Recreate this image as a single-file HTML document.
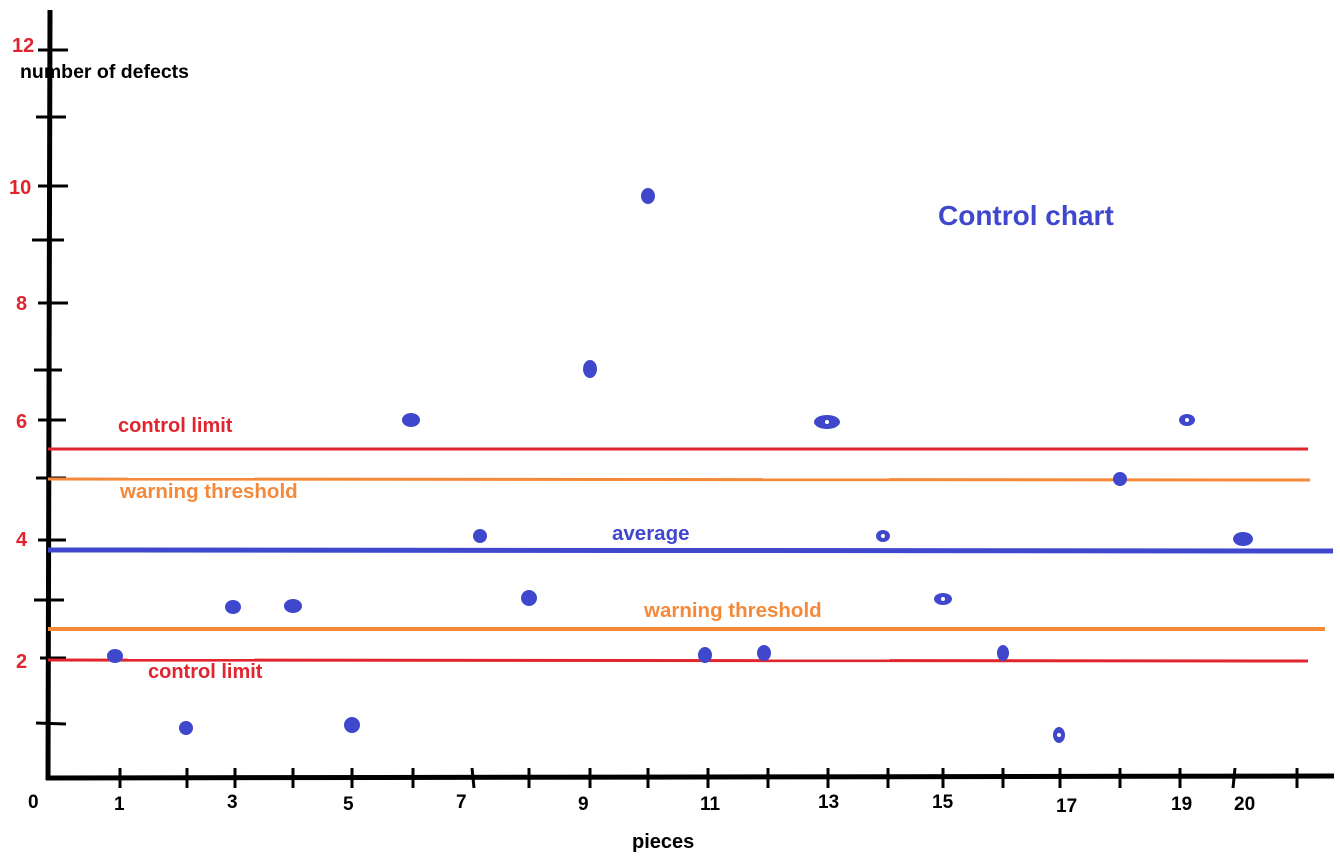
<!DOCTYPE html>
<html><head><style>body{margin:0;background:#fff}svg{display:block}text{font-family:"Liberation Sans",sans-serif;font-weight:bold}</style></head><body>
<svg width="1340" height="856" viewBox="0 0 1340 856">
<g stroke="#000" stroke-width="5">
<line x1="50" y1="10" x2="48" y2="780"/>
<line x1="46" y1="778" x2="1334" y2="776"/>
</g>
<g stroke="#000" stroke-width="3">
<line x1="38" y1="50" x2="68" y2="50"/><line x1="36" y1="117" x2="66" y2="117"/><line x1="38" y1="186" x2="68" y2="186"/><line x1="32" y1="240" x2="64" y2="240"/><line x1="38" y1="303" x2="68" y2="303"/><line x1="34" y1="370" x2="62" y2="370"/><line x1="38" y1="420" x2="66" y2="420"/><line x1="36" y1="478" x2="66" y2="478"/><line x1="38" y1="540" x2="66" y2="540"/><line x1="34" y1="600" x2="64" y2="600"/><line x1="40" y1="658" x2="66" y2="658"/><line x1="36" y1="723" x2="66" y2="724"/>
</g>
<g stroke="#000" stroke-width="3">
<line x1="120" y1="768" x2="120" y2="788"/><line x1="187" y1="768" x2="187" y2="788"/><line x1="235" y1="768" x2="235" y2="788"/><line x1="293" y1="768" x2="293" y2="788"/><line x1="352" y1="768" x2="352" y2="788"/><line x1="413" y1="768" x2="413" y2="788"/><line x1="472" y1="768" x2="474" y2="788"/><line x1="529" y1="768" x2="529" y2="788"/><line x1="590" y1="768" x2="590" y2="788"/><line x1="648" y1="768" x2="648" y2="788"/><line x1="708" y1="768" x2="708" y2="788"/><line x1="768" y1="768" x2="768" y2="788"/><line x1="828" y1="768" x2="828" y2="788"/><line x1="888" y1="768" x2="888" y2="788"/><line x1="943" y1="768" x2="943" y2="788"/><line x1="1003" y1="768" x2="1003" y2="788"/><line x1="1060" y1="768" x2="1060" y2="788"/><line x1="1120" y1="768" x2="1120" y2="788"/><line x1="1180" y1="768" x2="1180" y2="788"/><line x1="1235" y1="768" x2="1233" y2="788"/><line x1="1297" y1="768" x2="1297" y2="788"/>
</g>
<line x1="48" y1="449" x2="1308" y2="449" stroke="#e0252e" stroke-width="3"/>
<line x1="48" y1="479" x2="1310" y2="480" stroke="#f5893a" stroke-width="3"/>
<line x1="48" y1="550" x2="1333" y2="551" stroke="#3f48cc" stroke-width="5"/>
<line x1="48" y1="629" x2="1325" y2="629" stroke="#f5893a" stroke-width="4"/>
<line x1="48" y1="660" x2="1308" y2="661" stroke="#e0252e" stroke-width="3"/>
<g fill="#3f48cc">
<ellipse cx="115" cy="656" rx="8" ry="7"/><ellipse cx="186" cy="728" rx="7" ry="7"/><ellipse cx="233" cy="607" rx="8" ry="7"/><ellipse cx="293" cy="606" rx="9" ry="7"/><ellipse cx="352" cy="725" rx="8" ry="8"/><ellipse cx="411" cy="420" rx="9" ry="7"/><ellipse cx="480" cy="536" rx="7" ry="7"/><ellipse cx="529" cy="598" rx="8" ry="8"/><ellipse cx="590" cy="369" rx="7" ry="9"/><ellipse cx="648" cy="196" rx="7" ry="8"/><ellipse cx="705" cy="655" rx="7" ry="8"/><ellipse cx="764" cy="653" rx="7" ry="8"/><ellipse cx="827" cy="422" rx="13" ry="7"/><ellipse cx="883" cy="536" rx="7" ry="6"/><ellipse cx="943" cy="599" rx="9" ry="6"/><ellipse cx="1003" cy="653" rx="6" ry="8"/><ellipse cx="1059" cy="735" rx="6" ry="8"/><ellipse cx="1120" cy="479" rx="7" ry="7"/><ellipse cx="1187" cy="420" rx="8" ry="6"/><ellipse cx="1243" cy="539" rx="10" ry="7"/>
</g>
<g fill="#fff"><circle cx="883" cy="536" r="2"/><circle cx="943" cy="599" r="2"/><circle cx="1059" cy="735" r="2"/><circle cx="1187" cy="420" r="2"/><circle cx="827" cy="422" r="2"/></g>
<g font-size="20" fill="#e0252e">
<text x="12" y="52">12</text><text x="9" y="194">10</text><text x="16" y="310">8</text><text x="16" y="428">6</text><text x="16" y="546">4</text><text x="16" y="668">2</text>
</g>
<g font-size="20" fill="#e0252e"><text x="118" y="432">control limit</text><text x="148" y="678">control limit</text></g>
<g font-size="20.5" fill="#f5893a"><text x="120" y="498">warning threshold</text><text x="644" y="617">warning threshold</text></g>
<text x="612" y="540" font-size="20.5" fill="#3f48cc">average</text>
<text x="938" y="225" font-size="28" fill="#3f48cc">Control  chart</text>
<text x="20" y="78" font-size="19.5" fill="#000">number of defects</text>
<g font-size="19" fill="#000">
<text x="28" y="808">0</text><text x="114" y="810">1</text><text x="227" y="808">3</text><text x="343" y="810">5</text><text x="456" y="808">7</text><text x="578" y="810">9</text><text x="700" y="810">11</text><text x="818" y="808">13</text><text x="932" y="808">15</text><text x="1056" y="812">17</text><text x="1171" y="810">19</text><text x="1234" y="810">20</text>
<text x="632" y="848" font-size="20">pieces</text>
</g>
</svg>
</body></html>
